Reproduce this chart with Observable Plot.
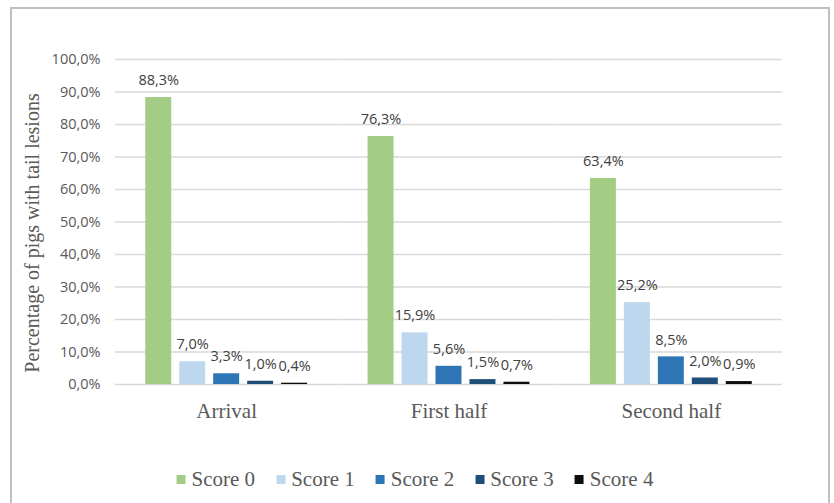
<!DOCTYPE html>
<html>
<head>
<meta charset="utf-8">
<script src="https://cdn.jsdelivr.net/npm/d3@7"></script>
<script src="https://cdn.jsdelivr.net/npm/@observablehq/plot@0.6"></script>
<style>
  html, body { margin: 0; padding: 0; background: #fff; }
  #wrap { position: relative; width: 834px; height: 503px; overflow: hidden; background: #fff; }
  #frame { position: absolute; left: 10px; top: 7px; width: 816px; height: 540px; border: 2px solid #c0c0c0; box-sizing: content-box; }
  #chart { position: absolute; left: 0; top: 0; }
  #ylabel { position: absolute; left: 32px; top: 233px; transform: translate(-50%, -50%) rotate(-90deg); white-space: nowrap;
    font-family: "Liberation Serif", "Times New Roman", serif; font-size: 20px; color: #595959; }
  #legend { position: absolute; top: 467px; left: 415px; transform: translateX(-50%); display: flex; gap: 21px; white-space: nowrap;
    font-family: "Liberation Serif", "Times New Roman", serif; font-size: 21px; color: #595959; }
  #legend .item { display: flex; align-items: center; gap: 6px; }
  #legend .sw { width: 9px; height: 9px; display: inline-block; }
</style>
</head>
<body>
<div id="wrap">
  <div id="frame"></div>
  <div id="chart"></div>
  <div id="ylabel"></div>
  <div id="legend"></div>
</div>
<script>
const periods = ["Arrival", "First half", "Second half"];
const scores = ["Score 0", "Score 1", "Score 2", "Score 3", "Score 4"];
const score0 = [88.3, 76.3, 63.4];
const score1 = [7.0, 15.9, 25.2];
const score2 = [3.3, 5.6, 8.5];
const score3 = [1.0, 1.5, 2.0];
const score4 = [0.4, 0.7, 0.9];
const yTicks = [0, 10, 20, 30, 40, 50, 60, 70, 80, 90, 100];
const colors = ["#a3cd85", "#bdd7ee", "#2e75b6", "#1f4e79", "#0d0d0d"];
const yLabel = "Percentage of pigs with tail lesions";

const series = [score0, score1, score2, score3, score4];
const data = [];
periods.forEach((p, i) => scores.forEach((s, j) => data.push({period: p, score: s, value: series[j][i]})));

const fmt = v => v.toFixed(1).replace(".", ",") + "%";

const chart = Plot.plot({
  width: 834,
  height: 430,
  marginLeft: 115,
  marginRight: 52,
  marginTop: 59,
  marginBottom: 46,
  fx: {domain: periods, padding: 0, round: false},
  x: {domain: scores, axis: null, paddingInner: 0.235, paddingOuter: 0.89, round: false},
  y: {domain: [0, 100]},
  color: {domain: scores, range: colors},
  style: {background: "transparent"},
  marks: [
    Plot.gridY(yTicks, {stroke: "#d9d9d9", strokeOpacity: 1, strokeWidth: 1.5}),
    Plot.axisY(yTicks, {tickSize: 0, tickPadding: 15, tickFormat: fmt, fontSize: 14.5, fontFamily: "Open Sans", color: "#595959", label: null}),
    Plot.axisFx({anchor: "bottom", tickSize: 0, tickPadding: 19, fontSize: 21, fontFamily: "Liberation Serif", color: "#595959", label: null}),
    Plot.barY(data, {fx: "period", x: "score", y: "value", fill: "score"}),
    Plot.text(data, {fx: "period", x: "score", y: "value", text: d => fmt(d.value), dy: -17, fontSize: 14.5, fontFamily: "Open Sans", fill: "#404040"})
  ]
});
document.getElementById("chart").appendChild(chart);
document.getElementById("ylabel").textContent = yLabel;

const legend = document.getElementById("legend");
scores.forEach((s, i) => {
  const item = document.createElement("div");
  item.className = "item";
  const sw = document.createElement("span");
  sw.className = "sw";
  sw.style.background = colors[i];
  const t = document.createElement("span");
  t.textContent = s;
  item.appendChild(sw);
  item.appendChild(t);
  legend.appendChild(item);
});
</script>
</body>
</html>
